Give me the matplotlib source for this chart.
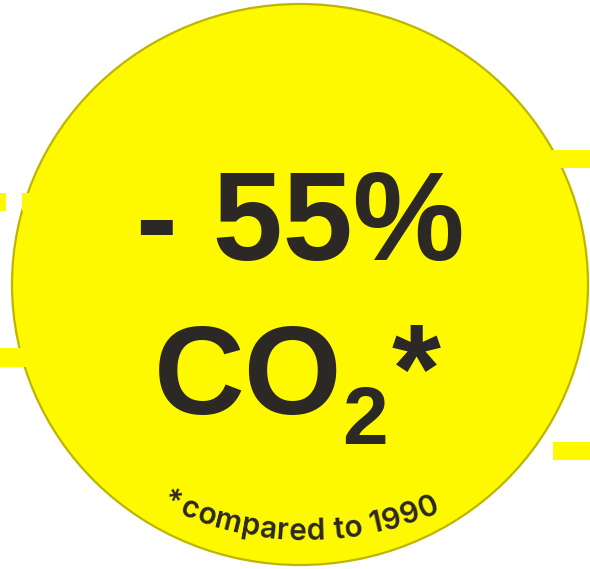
import numpy as np
import matplotlib
matplotlib.use("Agg")
import matplotlib.pyplot as plt
from matplotlib.patches import Ellipse, Rectangle
from matplotlib.font_manager import FontProperties

# ---- content ----
headline = "- 55%"
molecule = "CO"
subscript = "2"
marker = "*"
footnote = "*compared to 1990"

W, H = 590, 569
fig = plt.figure(figsize=(W / 100, H / 100), dpi=100)
ax = fig.add_axes([0, 0, 1, 1])
ax.set_xlim(0, W)
ax.set_ylim(H, 0)
ax.set_aspect("equal")
ax.axis("off")

yellow = "#FFF900"
edge = "#BDB500"
ink = "#2B2826"
font = "Liberation Sans"

# circle
ax.add_patch(Ellipse((300, 284.5), 576, 561, facecolor=yellow, edgecolor=edge, lw=1.6, zorder=1))

# yellow tick bars
for (x0, y0, w, h) in [(0, 193, 6, 18), (22, 193, 14, 18), (0, 348, 28, 19),
                       (552, 150, 38, 18), (553, 442, 37, 18)]:
    ax.add_patch(Rectangle((x0, y0), w, h, facecolor=yellow, edgecolor="none", zorder=2))

big = 90.5
ax.text(300, 260, headline, fontsize=big, fontweight="bold", family=font, color=ink,
        ha="center", va="baseline", zorder=3)
ax.text(154, 414, molecule, fontsize=big, fontweight="bold", family=font, color=ink,
        ha="left", va="baseline", zorder=3)
ax.text(342, 444, subscript, fontsize=59, fontweight="bold", family=font, color=ink,
        ha="left", va="baseline", zorder=3)
ax.text(392, 412, marker, fontsize=big, fontweight="bold", family=font, color=ink,
        ha="left", va="baseline", zorder=3)

# curved footnote
fs = 21.5
prop = FontProperties(family="Inter", weight="semibold", size=fs)
fig.canvas.draw()
rend = fig.canvas.get_renderer()

def wpx(s):
    return rend.get_text_width_height_descent(s, prop, ismath=False)[0]

track = 0.6
gaps = [track] * (len(footnote) - 1)
gaps[0] += 3  # a little room after the asterisk
offs = np.concatenate([[0], np.cumsum(gaps)])
total = wpx(footnote) + offs[-1]
cx, cy, R = 306, 212, 328
mid = 300 - cx  # arc offset of text centre
for i, ch in enumerate(footnote):
    if ch == " ":
        continue
    cw = wpx(ch)
    left = wpx(footnote[:i + 1]) - cw + offs[i]
    s = left + cw / 2 - total / 2 + mid
    th = np.pi / 2 - s / R
    x = cx + R * np.cos(th)
    y = cy + R * np.sin(th)
    ax.text(x, y, ch, fontproperties=prop, color=ink, ha="center", va="baseline",
            rotation=np.degrees(s / R), rotation_mode="anchor", zorder=3)

fig.savefig("out.png", dpi=100, facecolor="white")
